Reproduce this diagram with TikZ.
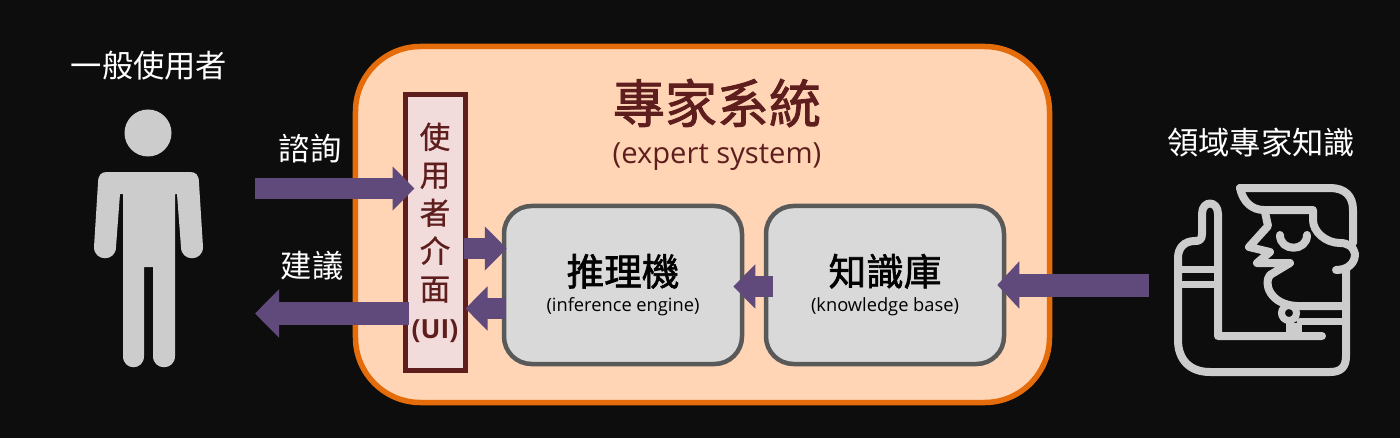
\documentclass[tikz,border=0pt]{standalone}
\usepackage{fontspec}
\setmainfont{Open Sans}
\newfontfamily\cjk{Noto Sans CJK TC}
\newfontfamily\cjkmid[FakeBold=0.7]{Noto Sans CJK TC}
\newfontfamily\cjkheavy[FakeBold=1.6]{Noto Sans CJK TC}
\usetikzlibrary{arrows.meta}
\definecolor{bgblack}{HTML}{0D0D0D}
\definecolor{sysfill}{HTML}{FFD5B5}
\definecolor{sysline}{HTML}{E46C0A}
\definecolor{darkred}{HTML}{5E1E1E}
\definecolor{uifill}{HTML}{F2DCDB}
\definecolor{boxfill}{HTML}{D9D9D9}
\definecolor{boxline}{HTML}{595959}
\definecolor{flowpurple}{HTML}{604A7B}
\definecolor{icongray}{HTML}{CCCCCC}
\tikzset{
  enginebox/.style={draw=boxline,fill=boxfill,line width=0.9mm,rounded corners=5.5mm,
    minimum width=47.6mm,minimum height=31.6mm,align=center,text=black,inner sep=0pt},
  flowarrow/.style={draw=flowpurple,line width=4.2mm,-{Triangle[length=4.4mm,width=8.6mm]}},
  label/.style={text=white,font=\cjk\fontsize{17.8}{20}\selectfont,inner sep=0pt},
  iconline/.style={draw=icongray,line width=1.6mm,line cap=round,line join=round}
}
\begin{document}
\begin{tikzpicture}[x=0.2mm,y=-0.2mm]
\useasboundingbox (0,0) rectangle (1400,438);
\fill[bgblack] (0,0) rectangle (1400,438);

% system frame
\node[draw=sysline,fill=sysfill,line width=1.1mm,rounded corners=13mm,
  minimum width=138.8mm,minimum height=71.2mm] (sysbox) at (702.5,224.5) {};
\node[text=darkred,font=\cjkheavy\fontsize{29.6}{32}\selectfont,inner sep=0pt] (systitle) at (717,103) {專家系統};
\node[text=darkred,font=\fontsize{16.6}{18}\selectfont,inner sep=0pt] (syssub) at (717,157) {(expert system)};

% boxes
\node[draw=darkred,fill=uifill,line width=1mm,minimum width=12mm,minimum height=55mm,
  text=darkred,align=center,inner sep=0pt,font=\cjkmid\fontsize{17.4}{21.6}\selectfont] (uibox) at (435,232.5)
  {使\\用\\者\\介\\面\\{\fontspec{Open Sans}\bfseries\fontsize{15}{21.6}\selectfont(UI)}};
\node[enginebox] (inferbox) at (623,285)
  {{\cjkheavy\fontsize{21.4}{26}\selectfont 推理機}\\[1mm]{\fontsize{10.4}{12}\selectfont (inference engine)}};
\node[enginebox] (kbbox) at (885,285)
  {{\cjkheavy\fontsize{21.4}{26}\selectfont 知識庫}\\[1mm]{\fontsize{10.4}{12}\selectfont (knowledge base)}};

% labels
\node[label] (userlabel) at (149,66) {一般使用者};
\node[label] (asklabel) at (310,149) {諮詢};
\node[label] (advicelabel) at (312,266) {建議};
\node[label] (domainlabel) at (1261,143) {領域專家知識};

% free ends of the arrows
\coordinate (askstart) at (255,188.5);
\coordinate (adviceend) at (255,313.5);
\coordinate (domainstart) at (1149,285);

\draw[flowarrow,shorten >=-2.4mm] (askstart) -- (uibox.west |- askstart);
\draw[flowarrow,line width=4.6mm,-{Triangle[length=4.8mm,width=9.4mm]},shorten <=-1.2mm] (uibox.west |- adviceend) -- (adviceend);
\draw[flowarrow,shorten <=-0.8mm,shorten >=-1mm] (uibox.east |- 0,248.5) -- (inferbox.west |- 0,248.5);
\draw[flowarrow,shorten <=-0.8mm,shorten >=-0.4mm] (inferbox.west |- 0,308.5) -- (uibox.east |- 0,308.5);
\draw[flowarrow,shorten <=-1.8mm,shorten >=-2.2mm] (kbbox.west |- 0,286.5) -- (inferbox.east |- 0,286.5);
\draw[flowarrow,line width=4.6mm,-{Triangle[length=4.4mm,width=9.2mm]},shorten >=-1.8mm] (domainstart) -- (kbbox.east |- domainstart);

% user figure
\fill[icongray] (148,133) circle (23.5);
\fill[icongray] (123,194) -- (123,356) .. controls (123,371) and (144,371) .. (144,356)
  -- (144,267) -- (153,267) -- (153,356) .. controls (153,371) and (175,371) .. (175,356)
  -- (175,194) -- (177,194) -- (181,247) .. controls (181,262) and (203,262) .. (203,247)
  -- (199,183) .. controls (199,175) and (196,172) .. (190,172) -- (107,172)
  .. controls (101,172) and (98,175) .. (98,183) -- (94,247)
  .. controls (94,262) and (116,262) .. (116,247) -- (120,194) -- cycle;

% domain expert figure
\draw[iconline] (1322,336) -- (1218,336) -- (1218,214) .. controls (1218,200) and (1202,200) .. (1202,214)
  -- (1202,234) .. controls (1202,240) and (1199,241) .. (1195,241) .. controls (1184,241) and (1178,248) .. (1178,258)
  -- (1178,340) .. controls (1178,360) and (1190,372) .. (1210,372) -- (1330,372)
  .. controls (1341,372) and (1346,367) .. (1346,356) -- (1346,270);
\draw[iconline,line width=1.4mm] (1178,269.5) -- (1218,269.5);
\draw[iconline,line width=1.4mm] (1178,284.5) -- (1218,284.5);
\draw[iconline,line width=1.4mm] (1300,321) -- (1346,321);
\draw[icongray,line width=1.4mm] (1289,313) circle (7.5);
\fill[icongray] (1286,323) rectangle (1302,336);
\draw[iconline] (1240,188) -- (1330,188) .. controls (1345,188) and (1353,196) .. (1353,210) -- (1353,243);
\draw[iconline] (1240,188) .. controls (1243,202) and (1252,210) .. (1264,210) -- (1313,210) -- (1313,220)
  .. controls (1313,232) and (1326,243) .. (1340,243) .. controls (1348,243) and (1354,247) .. (1355,254)
  .. controls (1355,263) and (1348,270) .. (1336,270);
\draw[iconline] (1265,212) -- (1268,226) -- (1249,247) -- (1270,252) -- (1257,263) -- (1290,263)
  -- (1270,275) .. controls (1263,283) and (1270,305) .. (1297,306) -- (1346,306);
\draw[iconline] (1280,235) .. controls (1280,252) and (1307,252) .. (1307,235);
\end{tikzpicture}
\end{document}
